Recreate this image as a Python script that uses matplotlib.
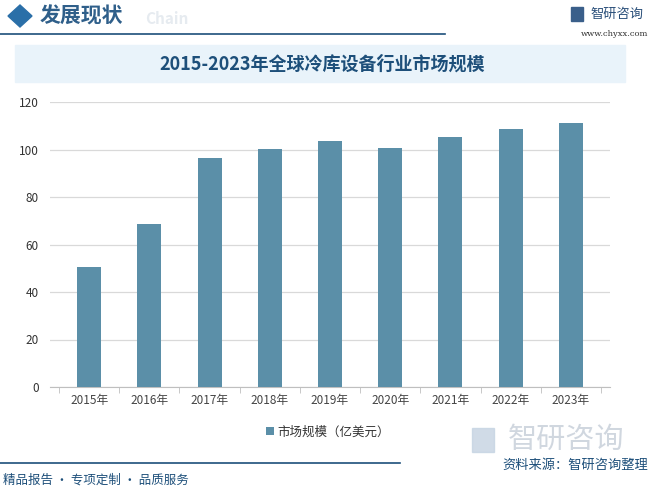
import matplotlib.pyplot as plt
from matplotlib.patches import Rectangle, Polygon

plt.rcParams['font.family'] = ['Noto Sans CJK SC', 'DejaVu Sans']

# data
years = ["2015年", "2016年", "2017年", "2018年", "2019年", "2020年", "2021年", "2022年", "2023年"]
market_size = [50.6, 68.6, 96.4, 100.2, 103.6, 100.6, 105.3, 108.6, 111.2]
y_ticks = [0, 20, 40, 60, 80, 100, 120]

bar_color = "#5b8fa8"
dark_blue = "#1d4f7a"

fig = plt.figure(figsize=(6.55, 4.92), dpi=100)
W, H = 655, 492

def fx(x):
    return x / W

def fy(y):
    return 1 - y / H

# header
fig.patches.append(Polygon([[fx(8), fy(16)], [fx(20), fy(5)], [fx(32), fy(16)], [fx(20), fy(27)]],
                           closed=True, transform=fig.transFigure, color="#2a6fa8"))
fig.text(fx(40), fy(16), "发展现状", fontsize=15, fontweight="bold", color="#2f5f8a",
         va="center", ha="left")
fig.text(fx(145), fy(19), "Chain", fontsize=11, fontweight="bold", color="#e6ebf0",
         va="center", ha="left")
fig.add_artist(plt.Line2D([fx(0), fx(445)], [fy(34), fy(34)], color="#1d4f7a", lw=1.2))
fig.text(fx(590), fy(14), "智研咨询", fontsize=9.5, color="#2a4f7a", va="center", ha="left")
fig.patches.append(Rectangle((fx(571), fy(21)), fx(12), 14 / H, transform=fig.transFigure,
                             color="#3a5f8a"))
fig.text(fx(648), fy(34), "www.chyxx.com", fontsize=6, color="#333333", va="center",
         ha="right", family="DejaVu Serif")

# title box
fig.patches.append(Rectangle((fx(15), fy(82)), fx(610), 37 / H, transform=fig.transFigure,
                             color="#e9f3fa", zorder=0))
fig.text(fx(322), fy(64), "2015-2023年全球冷库设备行业市场规模", fontsize=13, fontweight="bold",
         color=dark_blue, va="center", ha="center")

# chart
ax = fig.add_axes([fx(50), fy(387), fx(560), 285 / H])
x = range(len(years))
ax.bar(x, market_size, width=0.4, color=bar_color, zorder=3, label="市场规模（亿美元）")
ax.set_ylim(0, 120)
ax.set_xlim(-0.65, len(years) - 0.35)
ax.set_yticks(y_ticks)
ax.set_xticks(list(x))
ax.set_xticklabels(years)
ax.tick_params(axis="x", length=0, labelsize=8.5, colors="#444444", pad=5)
ax.tick_params(axis="y", length=0, labelsize=8.5, colors="#333333", pad=8)
ax.set_xticks([i - 0.5 for i in range(len(years) + 1)], minor=True)
ax.tick_params(axis="x", which="minor", length=4, color="#bfbfbf", direction="out")
ax.grid(axis="y", color="#d9d9d9", lw=0.9, zorder=0)
for s in ["left", "right", "top"]:
    ax.spines[s].set_visible(False)
ax.spines["bottom"].set_color("#bfbfbf")

leg = fig.legend(loc="center", bbox_to_anchor=(fx(328), fy(432)), frameon=False,
                 fontsize=9, handlelength=0.6, handleheight=0.6, handletextpad=0.3)
for t in leg.get_texts():
    t.set_color("#333333")

# watermark logo bottom right
fig.text(fx(508), fy(440), "智研咨询", fontsize=21, color="#c5cdd8", alpha=0.8,
         va="center", ha="left")
fig.patches.append(Rectangle((fx(472), fy(452)), fx(22), 24 / H, transform=fig.transFigure,
                             color="#c5d3e2", alpha=0.8))

# footer
fig.add_artist(plt.Line2D([fx(0), fx(400)], [fy(463), fy(463)], color=dark_blue, lw=1.2))
fig.text(fx(648), fy(465), "资料来源：智研咨询整理", fontsize=9.5, color=dark_blue,
         va="center", ha="right")
fig.text(fx(3), fy(480), "精品报告 · 专项定制 · 品质服务", fontsize=9, color=dark_blue,
         va="center", ha="left")

fig.savefig("out.png", dpi=100)
